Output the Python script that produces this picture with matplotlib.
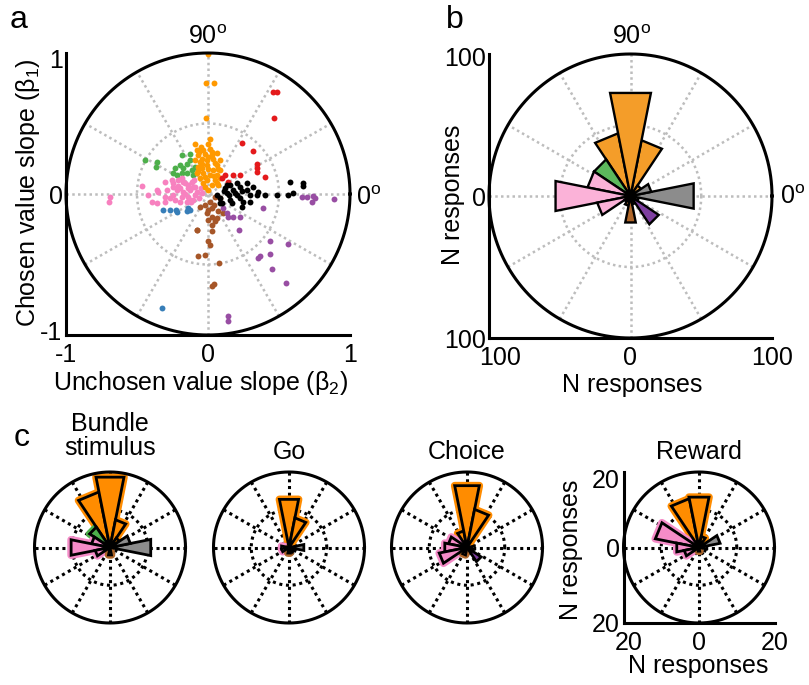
import numpy as np
import matplotlib
matplotlib.use("Agg")
import matplotlib.pyplot as plt
from matplotlib.transforms import ScaledTranslation

plt.rcParams['font.family'] = ['Liberation Sans', 'DejaVu Sans']
plt.rcParams['mathtext.fontset'] = 'custom'
plt.rcParams['mathtext.rm'] = 'Liberation Sans'
plt.rcParams['mathtext.it'] = 'Liberation Sans:italic'

# --- CONFIGURATION ---
W, H = 809, 685
FS = 18
BIN_WIDTH = 22.5

# panel a colours (one per angle class)
C_ORANGE = '#FF9900'
C_RED = '#E41A1C'
C_GREEN = '#4DAF4A'
C_PINK = '#F781BF'
C_BLUE = '#377EB8'
C_BROWN = '#A65628'
C_PURPLE = '#984EA3'
C_BLACK = '#000000'

# panel b / c colours
B_ORANGE = '#F49D29'
B_GREEN = '#5CB85C'
B_PINK = '#FBB2D8'
B_BROWN = '#B0672A'
B_PURPLE = '#7E3FA0'
B_GRAY = '#8C8C8C'
CC_ORANGE = '#FF8C00'
CC_PINK = '#F58CC8'
CC_GREEN = '#4DAF4A'
CC_BROWN = '#B0672A'

# --- panel a: regression slopes (unchosen, chosen) ---
orange_x = [0.0, -0.016, 0.045, -0.016, 0.014, 0.002, -0.092, -0.049, -0.08, -0.033, 0.014, 0.061,
            -0.021, 0.026, -0.068, -0.045, -0.009, 0.038, 0.085, -0.056, -0.009, 0.061, -0.045, 0.002,
            0.038, 0.085, -0.033, 0.014, 0.061, -0.056, -0.009, 0.049, 0.085, -0.033, 0.026, -0.068,
            -0.092, -0.08, -0.021, 0.073, 0.002, -0.06, 0.05, -0.02, 0.04, -0.07, 0.07, 0.0, 0.03, -0.04, 0.06]
orange_y = [0.99, 0.79, 0.79, 0.54, 0.39, 0.352, 0.352, 0.333, 0.315, 0.315, 0.322, 0.291,
            0.286, 0.275, 0.275, 0.251, 0.239, 0.251, 0.239, 0.228, 0.204, 0.204, 0.181, 0.174,
            0.169, 0.169, 0.146, 0.134, 0.134, 0.11, 0.099, 0.099, 0.11, 0.075, 0.063, 0.192,
            0.239, 0.146, 0.122, 0.063, 0.028, 0.30, 0.22, 0.05, 0.13, 0.16, 0.18, 0.26, 0.30, 0.21, 0.08]

green_x = [-0.444, -0.361, -0.366, -0.185, -0.127, -0.232, -0.197, -0.15, -0.174, -0.115, -0.22,
           -0.185, -0.15, -0.103, -0.127, -0.092, -0.244]
green_y = [0.244, 0.228, 0.192, 0.275, 0.286, 0.181, 0.204, 0.216, 0.181, 0.169, 0.134,
           0.146, 0.146, 0.134, 0.239, 0.192, 0.146]

red_x = [0.46, 0.488, 0.467, 0.237, 0.315, 0.343, 0.343, 0.343, 0.404, 0.12, 0.174, 0.225, 0.143, 0.096]
red_y = [0.725, 0.725, 0.54, 0.365, 0.308, 0.216, 0.181, 0.153, 0.118, 0.134, 0.134, 0.134, 0.087, 0.11]

black_x = [0.155, 0.225, 0.319, 0.272, 0.178, 0.131, 0.202, 0.296, 0.343, 0.401, 0.484, 0.566,
           0.085, 0.155, 0.225, 0.096, 0.167, 0.249, 0.061, 0.12, 0.202, 0.272, 0.354, 0.131,
           0.577, 0.671, 0.671, 0.596, 0.237, 0.296, 0.085, 0.11, 0.19, 0.15, 0.24]
black_y = [0.063, 0.051, 0.051, 0.028, 0.028, 0.005, -0.007, -0.007, -0.007, -0.007, -0.007, -0.007,
           -0.03, -0.042, -0.03, -0.065, -0.065, -0.054, -0.007, 0.04, 0.075, 0.075, 0.016, 0.063,
           0.087, 0.075, 0.056, 0.005, -0.089, -0.054, -0.066, 0.02, 0.01, -0.01, 0.02]

purple_x = [0.66, 0.695, 0.742, 0.753, 0.73, 0.887, 0.39, 0.131, 0.178, 0.143, 0.225, 0.22,
            0.437, 0.561, 0.354, 0.366, 0.437, 0.453, 0.547, 0.138, 0.138, 0.108]
purple_y = [-0.019, -0.019, -0.014, -0.031, -0.054, -0.038, -0.1, -0.136, -0.16, -0.16, -0.16, -0.258,
            -0.336, -0.352, -0.453, -0.441, -0.425, -0.535, -0.629, -0.864, -0.9, -0.1]

brown_x = [0.049, 0.085, 0.014, -0.021, -0.056, 0.026, 0.073, 0.108, -0.009, 0.026, 0.061, 0.002,
           0.049, 0.026, -0.08, 0.026, 0.002, 0.014, -0.068, -0.021, -0.075, 0.08, 0.026, 0.042, 0.04, 0.0]
brown_y = [-0.019, -0.03, -0.054, -0.077, -0.089, -0.101, -0.124, -0.136, -0.136, -0.16, -0.171, -0.183,
           -0.195, -0.218, -0.254, -0.265, -0.336, -0.359, -0.441, -0.43, -0.258, -0.488, -0.653, -0.641,
           -0.08, -0.11]

blue_x = [-0.315, -0.268, -0.228, -0.216, -0.14, -0.127, -0.15, -0.326]
blue_y = [-0.117, -0.11, -0.113, -0.131, -0.10, -0.117, -0.12, -0.805]

pink_x = [-0.69, -0.70, -0.467, -0.42, -0.362, -0.397, -0.362, -0.303, -0.303, -0.244, -0.174, -0.139,
          -0.103, -0.22, -0.174, -0.127, -0.08, -0.244, -0.185, -0.139, -0.092, -0.045, -0.197, -0.15,
          -0.103, -0.303, -0.268, -0.256, -0.209, -0.162, -0.115, -0.244, -0.197, -0.139, -0.092,
          -0.291, -0.35, -0.12, -0.16, -0.21, -0.06, -0.23, -0.10, -0.18, -0.13, -0.05]
pink_y = [-0.019, -0.054, 0.056, -0.007, 0.028, -0.054, -0.066, -0.054, 0.087, 0.075, 0.087, 0.063,
          0.051, 0.028, 0.016, 0.028, 0.016, -0.007, -0.019, -0.019, -0.007, 0.005, -0.054, -0.054,
          -0.042, -0.019, -0.03, 0.099, 0.099, 0.075, 0.087, 0.051, 0.04, 0.04, 0.051,
          0.028, 0.016, -0.06, 0.0, 0.06, -0.03, -0.04, 0.10, 0.11, -0.04, 0.04]

# --- panel b: rose histogram of all responses ---
b_angles = [112.5, 67.5, 90, 45, 135, 157.5, 180, 202.5, 225, 247.5, 270, 292.5, 315, 337.5, 0, 22.5]
b_counts = [45, 40, 74, 9, 31, 31, 54, 24, 5, 7, 19, 6, 24, 6, 45.5, 15]
b_colors = [B_ORANGE, B_ORANGE, B_ORANGE, B_ORANGE, B_GREEN, B_PINK, B_PINK, B_PINK, B_PINK,
            B_BROWN, B_BROWN, B_BROWN, B_PURPLE, B_GRAY, B_GRAY, B_GRAY]

# --- panel c: rose histograms per task epoch ---
c_titles = ['Bundle\nstimulus', 'Go', 'Choice', 'Reward']
bundle_angles = [112.5, 90, 67.5, 45, 135, 157.5, 180, 202.5, 270, 0, 22.5]
bundle_counts = [15, 19, 7.5, 3, 6.5, 5, 10.5, 4, 2, 11, 5.5]
bundle_colors = [CC_ORANGE, CC_ORANGE, CC_ORANGE, CC_ORANGE, CC_GREEN, CC_PINK, CC_PINK, CC_PINK,
                 CC_BROWN, B_GRAY, B_GRAY]
go_angles = [90, 67.5, 180, 202.5, 270, 315, 0]
go_counts = [13, 8, 2, 2, 1.5, 1.5, 4]
go_colors = [CC_ORANGE, CC_ORANGE, CC_PINK, CC_PINK, CC_BROWN, B_PURPLE, B_GRAY]
choice_angles = [112.5, 90, 67.5, 157.5, 180, 202.5, 247.5, 315, 0]
choice_counts = [4.5, 16.7, 10.3, 5, 6, 7.5, 2, 4.5, 2]
choice_colors = [CC_ORANGE, CC_ORANGE, CC_ORANGE, CC_PINK, CC_PINK, CC_PINK, CC_BROWN, B_PURPLE, B_GRAY]
reward_angles = [112.5, 90, 67.5, 157.5, 180, 202.5, 270, 0, 22.5]
reward_counts = [13.2, 13.6, 3, 11.8, 6, 4, 1, 2, 5.7]
reward_colors = [CC_ORANGE, CC_ORANGE, CC_ORANGE, CC_PINK, CC_PINK, CC_PINK, CC_BROWN, B_GRAY, B_GRAY]


def add_axes_px(fig, left, top, right, bottom):
    return fig.add_axes([left / W, 1 - bottom / H, (right - left) / W, (bottom - top) / H])


def text_px(fig, x, y, s, **kw):
    fig.text(x / W, 1 - y / H, s, **kw)


def nudge(fig, label, dx, dy):
    # shift a tick label by a few pixels (dx right, dy up)
    label.set_transform(label.get_transform() + ScaledTranslation(dx / 100, dy / 100, fig.dpi_scale_trans))


def polar_frame(ax, rmax, grid_color, grid_lw, dash, circle_lw):
    t = np.linspace(0, 2 * np.pi, 361)
    ax.plot(rmax / 2 * np.cos(t), rmax / 2 * np.sin(t), color=grid_color, lw=grid_lw, ls=dash, zorder=1)
    for a in np.radians(np.arange(0, 180, 30)):
        ax.plot([-rmax * np.cos(a), rmax * np.cos(a)], [-rmax * np.sin(a), rmax * np.sin(a)],
                color=grid_color, lw=grid_lw, ls=dash, zorder=1)
    ax.plot(rmax * np.cos(t), rmax * np.sin(t), color='k', lw=circle_lw, zorder=6, clip_on=False)
    ax.set_xlim(-rmax, rmax)
    ax.set_ylim(-rmax, rmax)


def rose(ax, angles, counts, colors, halo=False, edge_lw=1.7):
    for ang, n, col in zip(angles, counts, colors):
        t1 = np.radians(ang - BIN_WIDTH / 2)
        t2 = np.radians(ang + BIN_WIDTH / 2)
        xs = [0, n * np.cos(t1), n * np.cos(t2)]
        ys = [0, n * np.sin(t1), n * np.sin(t2)]
        if halo and col not in (B_GRAY, B_PURPLE):
            ax.fill(xs, ys, facecolor=col, edgecolor=col, lw=5.5, joinstyle='round', zorder=3)
        ax.fill(xs, ys, facecolor=col, edgecolor='k', lw=edge_lw, joinstyle='miter', zorder=4)


def style_axes(ax, ticks, labels):
    for s in ['top', 'right']:
        ax.spines[s].set_visible(False)
    for s in ['left', 'bottom']:
        ax.spines[s].set_linewidth(2.2)
    ax.set_xticks(ticks)
    ax.set_xticklabels(labels)
    ax.set_yticks(ticks)
    ax.set_yticklabels(labels)
    ax.tick_params(length=0, labelsize=FS)
    ax.tick_params(axis='y', pad=2.5)
    ax.tick_params(axis='x', pad=6)


def main():
    fig = plt.figure(figsize=(W / 100, H / 100), dpi=100)

    # a. scatter of slopes
    ax = add_axes_px(fig, 66, 53, 350, 335)
    polar_frame(ax, 1, '#BDBDBD', 1.8, (0, (1, 1.3)), 2.2)
    groups = [(green_x, green_y, C_GREEN), (pink_x, pink_y, C_PINK), (blue_x, blue_y, C_BLUE),
              (orange_x, orange_y, C_ORANGE), (red_x, red_y, C_RED), (brown_x, brown_y, C_BROWN),
              (purple_x, purple_y, C_PURPLE), (black_x, black_y, C_BLACK)]
    for gx, gy, col in groups:
        ax.scatter(gx, gy, s=18, color=col, linewidths=0, zorder=3)
    style_axes(ax, [-1, 0, 1], ['-1', '0', '1'])
    ylab = ax.get_yticklabels()
    nudge(fig, ylab[0], 0, 4)
    nudge(fig, ylab[2], 0, -5)
    text_px(fig, 201, 383, 'Unchosen value slope (β$_\\mathregular{2}$)', ha='center', va='center', fontsize=FS)
    text_px(fig, 28, 193, 'Chosen value slope (β$_\\mathregular{1}$)', ha='center', va='center',
            rotation=90, fontsize=FS)
    text_px(fig, 208, 37, '90$^\\mathregular{o}$', ha='center', va='center', fontsize=FS)
    text_px(fig, 356, 198, '0$^\\mathregular{o}$', ha='left', va='center', fontsize=FS)
    text_px(fig, 19, 20, 'a', ha='center', va='center', fontsize=23)

    # b. rose of all responses
    ax = add_axes_px(fig, 489, 54, 772, 338)
    polar_frame(ax, 100, '#BDBDBD', 1.8, (0, (1, 1.3)), 2.2)
    rose(ax, b_angles, b_counts, b_colors)
    style_axes(ax, [-100, 0, 100], ['100', '0', '100'])
    nudge(fig, ax.get_yticklabels()[2], 0, -3)
    nudge(fig, ax.get_xticklabels()[0], 11, 0)
    text_px(fig, 632, 385, 'N responses', ha='center', va='center', fontsize=FS)
    text_px(fig, 453, 195, 'N responses', ha='center', va='center', rotation=90, fontsize=FS)
    text_px(fig, 632, 37, '90$^\\mathregular{o}$', ha='center', va='center', fontsize=FS)
    text_px(fig, 780, 197, '0$^\\mathregular{o}$', ha='left', va='center', fontsize=FS)
    text_px(fig, 455, 20, 'b', ha='center', va='center', fontsize=23)

    # c. rose per epoch
    centers = [110, 289, 467, 699]
    roses = [(bundle_angles, bundle_counts, bundle_colors), (go_angles, go_counts, go_colors),
             (choice_angles, choice_counts, choice_colors), (reward_angles, reward_counts, reward_colors)]
    for i, (cx, title, data) in enumerate(zip(centers, c_titles, roses)):
        ax = add_axes_px(fig, cx - 75.5, 472, cx + 75.5, 623)
        polar_frame(ax, 20, 'k', 2.2, (0, (1, 1.2)), 2.2)
        rose(ax, *data, halo=True, edge_lw=2.0)
        if i == 3:
            style_axes(ax, [-20, 0, 20], ['20', '0', '20'])
            nudge(fig, ax.get_yticklabels()[2], 0, -6)
            nudge(fig, ax.get_xticklabels()[0], 5, 0)
        else:
            ax.axis('off')
        text_px(fig, cx, 436 if i == 0 else 452, title, ha='center', va='center', fontsize=FS,
                linespacing=0.95)
    text_px(fig, 698, 666, 'N responses', ha='center', va='center', fontsize=FS)
    text_px(fig, 571, 550, 'N responses', ha='center', va='center', rotation=90, fontsize=FS)
    text_px(fig, 22, 438, 'c', ha='center', va='center', fontsize=23)

    fig.savefig('out.png', dpi=100)


if __name__ == "__main__":
    main()
